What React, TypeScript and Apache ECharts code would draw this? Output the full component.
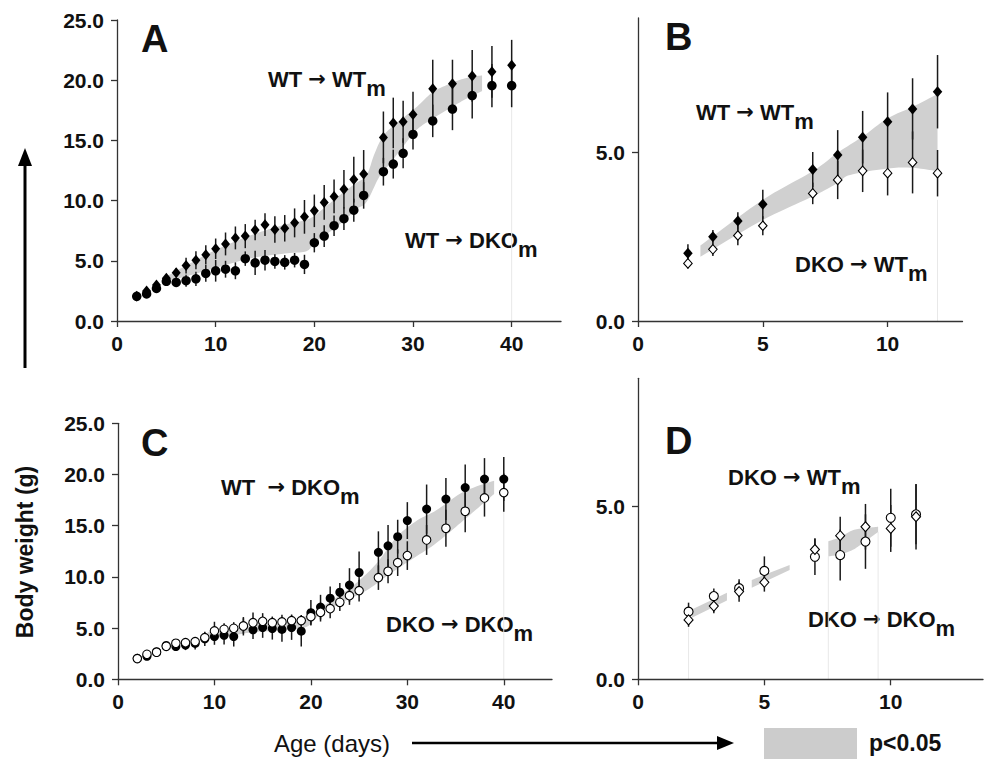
import React, { useEffect, useRef } from 'react';
import * as echarts from 'echarts';

const FONT = '"Liberation Sans", Arial, Helvetica, sans-serif';
const ARROW_FONT = '"DejaVu Sans", sans-serif';

// ---------- Panels A & C (long time course) ----------
const daysLong = [2, 3, 4, 5, 6, 7, 8, 9, 10, 11, 12, 13, 14, 15, 16, 17, 18, 19, 20, 21, 22, 23, 24, 25, 27, 28, 29, 30, 32, 34, 36, 38, 40];
// WT -> WTm (filled diamonds, panel A)
const wtWTm = [2.05, 2.5, 3.0, 3.55, 4.0, 4.6, 5.05, 5.5, 6.0, 6.4, 6.9, 7.05, 7.55, 8.0, 7.6, 7.7, 8.15, 8.65, 9.15, 9.85, 10.35, 10.95, 11.75, 12.2, 15.25, 16.45, 16.55, 17.15, 19.3, 19.7, 20.35, 20.7, 21.25];
const sdWtWTm = [0.2, 0.2, 0.25, 0.3, 0.4, 0.65, 0.75, 0.8, 0.85, 0.95, 0.95, 1.0, 0.85, 0.95, 1.1, 1.1, 1.2, 1.4, 1.35, 1.45, 1.4, 1.6, 1.9, 2.0, 2.15, 2.1, 1.75, 1.9, 2.4, 2.0, 2.15, 2.15, 2.1];
// WT -> DKOm (filled circles, panels A and C)
const wtDKOm = [2.05, 2.25, 2.7, 3.3, 3.2, 3.35, 3.5, 3.95, 4.17, 4.3, 4.17, 5.18, 4.83, 5.05, 4.95, 4.87, 5.05, 4.7, 6.5, 7.05, 7.92, 8.5, 9.2, 10.43, 12.4, 13.03, 13.93, 15.5, 16.62, 17.6, 18.72, 19.55, 19.55];
const sdWtDKOmA = [0.2, 0.2, 0.25, 0.3, 0.3, 0.5, 0.6, 0.7, 0.9, 0.7, 0.7, 0.6, 1.0, 0.85, 0.6, 0.6, 0.6, 0.8, 0.8, 0.9, 0.85, 0.95, 0.95, 1.1, 1.15, 1.2, 1.25, 1.25, 1.35, 1.75, 1.9, 1.8, 1.8];
const sdWtDKOmC = [0.2, 0.2, 0.25, 0.3, 0.4, 0.5, 0.6, 0.7, 0.8, 0.9, 0.97, 0.9, 0.9, 1.0, 1.07, 1.2, 1.2, 1.5, 1.25, 1.2, 1.15, 0.9, 1.65, 2.05, 2.05, 2.05, 1.65, 1.8, 2.4, 2.05, 2.25, 2.05, 2.15];
// DKO -> DKOm (open circles, panel C)
const dkoDKOm = [2.02, 2.44, 2.64, 3.22, 3.52, 3.58, 3.68, 4.07, 4.72, 4.88, 4.98, 5.21, 5.53, 5.66, 5.53, 5.6, 5.73, 5.73, 6.12, 6.54, 6.9, 7.52, 8.17, 8.66, 9.93, 10.55, 11.39, 12.08, 13.61, 14.75, 16.41, 17.71, 18.23];
const sdDkoDKOm = [0.15, 0.15, 0.15, 0.2, 0.3, 0.35, 0.4, 0.5, 0.9, 0.6, 0.6, 0.75, 1.0, 0.8, 0.6, 0.7, 0.6, 0.55, 0.8, 0.9, 0.95, 0.85, 0.9, 1.07, 1.2, 1.17, 1.3, 1.4, 1.46, 1.8, 2.05, 1.82, 1.86];

// ---------- Panel B ----------
const daysB = [2, 3, 4, 5, 7, 8, 9, 10, 11, 12];
const wtWTmB = [2.01, 2.5, 2.97, 3.47, 4.5, 4.93, 5.46, 5.92, 6.3, 6.81];
const sdWtWTmB = [0.27, 0.2, 0.26, 0.43, 0.52, 0.74, 0.78, 0.87, 0.91, 1.09];
const dkoWTmB = [1.71, 2.13, 2.54, 2.83, 3.79, 4.19, 4.46, 4.39, 4.71, 4.39];
const sdDkoWTmB = [0.15, 0.2, 0.29, 0.28, 0.32, 0.57, 0.63, 0.66, 0.92, 0.69];

// ---------- Panel D ----------
const daysD = [2, 3, 4, 5, 7, 8, 9, 10, 11];
const dkoDKOmD = [1.96, 2.41, 2.64, 3.14, 3.55, 3.6, 3.99, 4.68, 4.78];
const sdDkoDKOmD = [0.26, 0.22, 0.26, 0.42, 0.53, 0.74, 0.79, 0.84, 0.87];
const dkoWTmD = [1.72, 2.12, 2.54, 2.81, 3.76, 4.16, 4.42, 4.37, 4.71];
const sdDkoWTmD = [0.2, 0.21, 0.29, 0.27, 0.32, 0.55, 0.66, 0.68, 0.95];

// ---------- p<0.05 bands ----------
const bandAUpX = [5.0, 7, 10, 13.5, 17, 19.5, 21, 22.5, 24.3, 25.3, 26.1, 27, 28.3, 30.4, 32, 34, 35.5, 37];
const bandAUpY = [3.7, 4.6, 5.9, 7.1, 8.0, 8.5, 9.4, 10.4, 11.5, 12.1, 13.9, 15.4, 16.4, 17.8, 19.0, 19.8, 20.2, 20.4];
const bandALoX = [5.0, 7, 10, 13.5, 17, 19.2, 20, 21.4, 22.9, 24.3, 25.3, 26.6, 27.7, 29, 30.4, 32, 34, 35.5, 37];
const bandALoY = [3.3, 3.7, 4.4, 5.2, 5.6, 5.8, 6.5, 7.3, 8.25, 9.3, 9.9, 12.0, 13.1, 14.5, 15.9, 16.8, 17.8, 18.5, 19.1];

const bandBUpX = [2.5, 5, 7, 8, 9, 10, 11, 12];
const bandBUpY = [2.24, 3.6, 4.45, 5.0, 5.48, 6.02, 6.36, 6.74];
const bandBLoX = [2.5, 5, 7, 8, 8.5, 10, 11, 12];
const bandBLoY = [1.91, 3.0, 3.7, 4.1, 4.34, 4.53, 4.55, 4.45];

const bandCUpX = [9.3, 12, 14, 17, 19.5, 21, 23, 24.7, 26.8, 28.9, 31, 33, 35.8, 39];
const bandCUpY = [4.6, 4.9, 5.3, 5.5, 6.2, 7.0, 8.2, 9.4, 11.3, 13.9, 15.5, 16.5, 18.3, 19.4];
const bandCLoX = [9.3, 12, 14, 17, 19.5, 21, 23, 25.8, 28.2, 30.6, 33, 35.8, 37.9, 39];
const bandCLoY = [3.9, 4.3, 4.6, 4.8, 5.1, 6.4, 7.4, 8.7, 10.3, 11.8, 13.3, 15.5, 17.2, 18.1];

const bandD1X = [2.13, 3.52];
const bandD1Lo = [1.78, 2.28];
const bandD1Up = [2.02, 2.51];
const bandD2X = [4.5, 6.0];
const bandD2Lo = [2.65, 3.17];
const bandD2Up = [2.88, 3.31];
const bandD3X = [7.53, 8.0, 8.5, 9.0, 9.5];
const bandD3Lo = [3.56, 3.62, 3.75, 4.0, 4.27];
const bandD3Up = [4.0, 4.12, 4.32, 4.38, 4.42];

// faint vertical guide lines [x, top]
const faintA = [[40, 17.7]];
const faintB = [[12, 3.6]];
const faintC = [[40, 16.4]];
const faintD = [[2, 1.5], [7.53, 3.56], [9.5, 4.27]];

// axis extents and tick values
const xMaxA = 45, yMaxA = 25;
const xMaxB = 13, yMaxB = 9;
const xMaxC = 45, yMaxC = 25;
const xMaxD = 13.65, yMaxD = 8.72;
const ticksLongX = [0, 10, 20, 30, 40];
const ticksLongY = [0, 5, 10, 15, 20, 25];
const ticksShortX = [0, 5, 10];
const ticksShortY = [0, 5];

const BAND = '#d0d0d0';

function spline(pts: number[][], steps = 10): number[][] {
  if (pts.length < 3) return pts.slice();
  const out: number[][] = [];
  for (let i = 0; i < pts.length - 1; i++) {
    const p0 = pts[Math.max(0, i - 1)], p1 = pts[i], p2 = pts[i + 1], p3 = pts[Math.min(pts.length - 1, i + 2)];
    for (let s = 0; s < steps; s++) {
      const t = s / steps, t2 = t * t, t3 = t2 * t;
      out.push([0, 1].map((k) => 0.5 * (2 * p1[k] + (-p0[k] + p2[k]) * t + (2 * p0[k] - 5 * p1[k] + 4 * p2[k] - p3[k]) * t2 + (-p0[k] + 3 * p1[k] - 3 * p2[k] + p3[k]) * t3)));
    }
  }
  out.push(pts[pts.length - 1]);
  return out;
}

function bandSeries(g: number, ux: number[], uy: number[], lx: number[], ly: number[]) {
  return {
    type: 'custom', xAxisIndex: g, yAxisIndex: g, z: 1, silent: true, clip: false,
    data: [[ux[0], uy[0]]],
    renderItem: (_p: any, api: any) => {
      const up = spline(ux.map((x, i) => api.coord([x, uy[i]])));
      const lo = spline(lx.map((x, i) => api.coord([x, ly[i]])));
      return { type: 'polygon', shape: { points: up.concat(lo.reverse()) }, style: { fill: BAND } };
    },
  };
}

function faintSeries(g: number, lines: number[][]) {
  return {
    type: 'custom', xAxisIndex: g, yAxisIndex: g, z: 0, silent: true,
    data: lines,
    renderItem: (_p: any, api: any) => {
      const a = api.coord([api.value(0), 0]);
      const b = api.coord([api.value(0), api.value(1)]);
      return { type: 'line', shape: { x1: a[0], y1: a[1], x2: b[0], y2: b[1] }, style: { stroke: '#e8e8e8', lineWidth: 1 } };
    },
  };
}

function errSeries(g: number, xs: number[], ys: number[], sd: number[]) {
  return {
    type: 'custom', xAxisIndex: g, yAxisIndex: g, z: 3, silent: true,
    encode: { x: 0, y: 1 },
    data: xs.map((x, i) => [x, ys[i], sd[i]]),
    renderItem: (_p: any, api: any) => {
      const x = api.value(0), y = api.value(1), s = api.value(2);
      const p1 = api.coord([x, y - s]);
      const p2 = api.coord([x, y + s]);
      return { type: 'line', shape: { x1: p1[0], y1: p1[1], x2: p2[0], y2: p2[1] }, style: { stroke: '#1a1a1a', lineWidth: 1.5 } };
    },
  };
}

function pointSeries(g: number, xs: number[], ys: number[], symbol: string, size: any, open: boolean, z: number) {
  return {
    type: 'scatter', xAxisIndex: g, yAxisIndex: g, z, silent: true,
    symbol, symbolSize: size,
    data: xs.map((x, i) => [x, ys[i]]),
    itemStyle: { color: open ? '#ffffff' : '#000000', borderColor: '#000000', borderWidth: open ? 1.1 : 0, opacity: 1 },
  };
}

const LABEL = { color: '#111', fontSize: 21, fontWeight: 'bold', fontFamily: FONT };

function xAxisFor(g: number, max: number, ticks: number[]) {
  return {
    type: 'value', gridIndex: g, min: 0, max,
    axisLine: { show: true, onZero: false, lineStyle: { color: '#333', width: 1.3 } },
    axisTick: { show: true, inside: false, length: 6, customValues: ticks, lineStyle: { color: '#333', width: 1.3 } },
    splitLine: { show: false },
    axisLabel: { ...LABEL, margin: 12, customValues: ticks },
  };
}

function yAxisFor(g: number, max: number, ticks: number[]) {
  return {
    type: 'value', gridIndex: g, min: 0, max,
    axisLine: { show: true, onZero: false, lineStyle: { color: '#333', width: 1.3 } },
    axisTick: { show: true, inside: false, length: 6, customValues: ticks, lineStyle: { color: '#333', width: 1.3 } },
    splitLine: { show: false },
    axisLabel: { ...LABEL, margin: 13, customValues: ticks, formatter: (v: number) => v.toFixed(1) },
  };
}

const ANN = { fontSize: 22, fontWeight: 'bold', fontFamily: FONT, fill: '#111', lineHeight: 22, verticalAlign: 'top' };

function annotation(x: number, cy: number, left: string, right: string) {
  return {
    type: 'text', x, y: cy - 11,
    style: {
      text: `{a|${left} }{r|→}{a| ${right}}{s|m}`,
      align: 'left', verticalAlign: 'top',
      rich: {
        a: { ...ANN },
        r: { ...ANN, fontFamily: ARROW_FONT, fontSize: 21 },
        s: { ...ANN, padding: [9, 0, 0, 0] },
      },
    },
  };
}

function letter(x: number, cy: number, t: string) {
  return { type: 'text', x, y: cy, style: { text: t, font: `bold 38px ${FONT}`, fill: '#111', verticalAlign: 'middle', align: 'left' } };
}

export default function App() {
  const ref = useRef<HTMLDivElement>(null);
  useEffect(() => {
    if (!ref.current) return;
    const chart = echarts.init(ref.current, undefined, { renderer: 'svg' });
    const option: any = {
      animation: false,
      backgroundColor: '#ffffff',
      grid: [
        { left: 117, top: 20, width: 444, height: 301, outerBoundsMode: 'none' },
        { left: 638, top: 18, width: 324.5, height: 303, outerBoundsMode: 'none' },
        { left: 118, top: 423.3, width: 434, height: 256, outerBoundsMode: 'none' },
        { left: 638, top: 378.3, width: 345, height: 301, outerBoundsMode: 'none' },
      ],
      xAxis: [xAxisFor(0, xMaxA, ticksLongX), xAxisFor(1, xMaxB, ticksShortX), xAxisFor(2, xMaxC, ticksLongX), xAxisFor(3, xMaxD, ticksShortX)],
      yAxis: [yAxisFor(0, yMaxA, ticksLongY), yAxisFor(1, yMaxB, ticksShortY), yAxisFor(2, yMaxC, ticksLongY), yAxisFor(3, yMaxD, ticksShortY)],
      series: [
        // A
        faintSeries(0, faintA),
        bandSeries(0, bandAUpX, bandAUpY, bandALoX, bandALoY),
        errSeries(0, daysLong, wtWTm, sdWtWTm),
        errSeries(0, daysLong, wtDKOm, sdWtDKOmA),
        pointSeries(0, daysLong, wtWTm, 'diamond', [9, 11], false, 5),
        pointSeries(0, daysLong, wtDKOm, 'circle', 9.5, false, 6),
        // B
        faintSeries(1, faintB),
        bandSeries(1, bandBUpX, bandBUpY, bandBLoX, bandBLoY),
        errSeries(1, daysB, wtWTmB, sdWtWTmB),
        errSeries(1, daysB, dkoWTmB, sdDkoWTmB),
        pointSeries(1, daysB, wtWTmB, 'diamond', [9.5, 11], false, 5),
        pointSeries(1, daysB, dkoWTmB, 'diamond', [8.5, 9.5], true, 6),
        // C
        faintSeries(2, faintC),
        bandSeries(2, bandCUpX, bandCUpY, bandCLoX, bandCLoY),
        errSeries(2, daysLong, wtDKOm, sdWtDKOmC),
        errSeries(2, daysLong, dkoDKOm, sdDkoDKOm),
        pointSeries(2, daysLong, wtDKOm, 'circle', 9, false, 5),
        pointSeries(2, daysLong, dkoDKOm, 'circle', 8.5, true, 6),
        // D
        faintSeries(3, faintD),
        bandSeries(3, bandD1X, bandD1Up, bandD1X, bandD1Lo),
        bandSeries(3, bandD2X, bandD2Up, bandD2X, bandD2Lo),
        bandSeries(3, bandD3X, bandD3Up, bandD3X, bandD3Lo),
        errSeries(3, daysD, dkoDKOmD, sdDkoDKOmD),
        errSeries(3, daysD, dkoWTmD, sdDkoWTmD),
        pointSeries(3, daysD, dkoDKOmD, 'circle', 9, true, 5),
        pointSeries(3, daysD, dkoWTmD, 'diamond', [9, 10], true, 6),
      ],
      graphic: [
        letter(141, 39, 'A'),
        letter(665, 37, 'B'),
        letter(141, 443, 'C'),
        letter(665, 441, 'D'),
        annotation(268, 79.5, 'WT', 'WT'),
        annotation(405, 240.5, 'WT', 'DKO'),
        annotation(696, 112, 'WT', 'WT'),
        annotation(795, 264.5, 'DKO', 'WT'),
        annotation(221, 487, 'WT ', 'DKO'),
        annotation(386, 624, 'DKO', 'DKO'),
        annotation(728, 477.5, 'DKO', 'WT'),
        annotation(808, 619.5, 'DKO', 'DKO'),
        // left vertical arrow and label
        { type: 'line', shape: { x1: 25, y1: 368, x2: 25, y2: 162 }, style: { stroke: '#000', lineWidth: 3 } },
        { type: 'polygon', shape: { points: [[25, 148], [18, 166], [32, 166]] }, style: { fill: '#000' } },
        { type: 'text', x: 25, y: 552, rotation: Math.PI / 2, style: { text: 'Body weight (g)', font: `bold 23px ${FONT}`, fill: '#111', align: 'center', verticalAlign: 'middle' } },
        // bottom axis title and arrow
        { type: 'text', x: 274, y: 743, style: { text: 'Age (days)', font: `24px ${FONT}`, fill: '#111', align: 'left', verticalAlign: 'middle' } },
        { type: 'line', shape: { x1: 412, y1: 743, x2: 722, y2: 743 }, style: { stroke: '#000', lineWidth: 2.5 } },
        { type: 'polygon', shape: { points: [[734, 743], [717, 736], [717, 750]] }, style: { fill: '#000' } },
        // legend for the shaded band
        { type: 'rect', shape: { x: 764, y: 728, width: 93, height: 31 }, style: { fill: '#cccccc' } },
        { type: 'text', x: 869, y: 743, style: { text: 'p<0.05', font: `bold 23px ${FONT}`, fill: '#111', align: 'left', verticalAlign: 'middle' } },
      ],
    };
    chart.setOption(option);
    return () => chart.dispose();
  }, []);
  return <div ref={ref} style={{ position: 'fixed', left: 0, top: 0, width: 984, height: 759, background: '#fff' }} />;
}
